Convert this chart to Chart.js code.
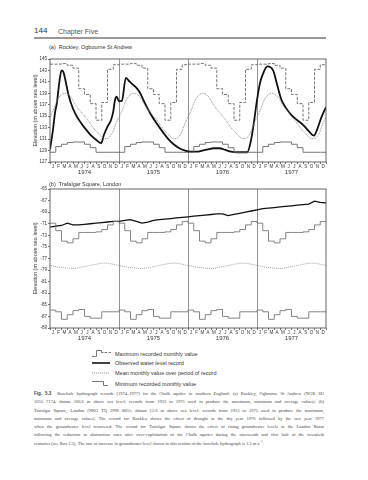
<!DOCTYPE html>
<html>
<head>
<meta charset="utf-8">
<script src="https://cdn.jsdelivr.net/npm/chart.js@4.4.0/dist/chart.umd.min.js"></script>
<style>
html, body { margin: 0; padding: 0; background: #fff; }
body { width: 368px; height: 480px; position: relative; overflow: hidden; font-family: "Liberation Sans", Arial, sans-serif; color: #333; }
.abs { position: absolute; }
.ttl { font-size: 5.5px; line-height: 6px; white-space: nowrap; }
.leg { font-size: 5.5px; line-height: 6px; white-space: nowrap; left: 115px; }
.cap { left: 34px; width: 290px; font-family: "Liberation Serif", "DejaVu Serif", serif; font-size: 4.5px; line-height: 8.3px; color: #444; }
.cap div { text-align: justify; text-align-last: justify; height: 8.3px; overflow: hidden; }
.cap div.last { text-align-last: left; }
.cap b { font-family: "Liberation Sans", Arial, sans-serif; }
</style>
</head>
<body>

<div class="abs" style="left:34px;top:26px;font-size:8px;line-height:10px;color:#333;">144</div>
<div class="abs" style="left:58px;top:27px;font-size:7px;line-height:9px;color:#555;">Chapter Five</div>
<div class="abs" style="left:34px;top:37px;width:292px;height:1.5px;background:#999;"></div>

<div class="abs" style="left:0;top:52px;width:368px;height:126px;"><canvas id="chartA"></canvas></div>
<div class="abs" style="left:0;top:182px;width:368px;height:162px;"><canvas id="chartB"></canvas></div>

<div class="abs ttl" style="left:49px;top:44px;">(a)&nbsp;&nbsp;Rockley, Ogbourne St Andrew</div>
<div class="abs ttl" style="left:49px;top:180.5px;">(b)&nbsp;&nbsp;Trafalgar Square, London</div>

<svg class="abs" style="left:88px;top:346px" width="26" height="42" viewBox="88 346 26 42">
  <path d="M92 356.5H96.5V350.5H101.5V352.5H103.5" fill="none" stroke="#555" stroke-width="0.8"/>
  <path d="M104.5 352.5H111" stroke="#555" stroke-width="0.8" stroke-dasharray="2.5 1.5"/>
  <path d="M92 363H110" stroke="#111" stroke-width="1.6"/>
  <path d="M92 373H110" stroke="#777" stroke-width="0.8" stroke-dasharray="1 1"/>
  <path d="M92 381.5H103.5V385.5H108" fill="none" stroke="#555" stroke-width="0.8"/>
</svg>
<div class="abs leg" style="top:350.5px;">Maximum recorded monthly value</div>
<div class="abs leg" style="top:360px;">Observed water level record</div>
<div class="abs leg" style="top:370px;">Mean monthly value over period of record</div>
<div class="abs leg" style="top:380.5px;">Minimum recorded monthly value</div>

<div class="abs cap" style="top:390px;">
  <div><b>Fig. 5.3</b>&nbsp; Borehole hydrograph records (1974–1977) for the Chalk aquifer in southern England: (a) Rockley, Ogbourne St Andrew (NGR SU</div>
  <div>1655 7174; datum 166.6 m above sea level; records from 1933 to 1975 used to produce the maximum, minimum and average values); (b)</div>
  <div>Trafalgar Square, London (NRG TQ 2996 8051; datum 12.6 m above sea level; records from 1913 to 1975 used to produce the maximum,</div>
  <div>minimum and average values). The record for Rockley shows the effect of drought in the dry year 1976 followed by the wet year 1977</div>
  <div>when the groundwater level recovered. The record for Trafalgar Square shows the effect of rising groundwater levels in the London Basin</div>
  <div>following the reduction in abstraction rates after over-exploitation of the Chalk aquifer during the nineteenth and first half of the twentieth</div>
  <div class="last">centuries (see Box 2.5). The rate of increase in groundwater level shown in this section of the borehole hydrograph is 1.2 m a<sup style="font-size:3px;line-height:0;">−1</sup>.</div>
</div>

<script>
// axis labels
const months = ['J', 'F', 'M', 'A', 'M', 'J', 'J', 'A', 'S', 'O', 'N', 'D'];
const years = ['1974', '1975', '1976', '1977'];
const yearLines = [12, 24, 36];
const yTicksA = [127, 129, 131, 133, 135, 137, 139, 141, 143, 145];
const yTicksB = [-89, -87, -85, -83, -81, -79, -77, -75, -73, -71, -69, -67, -65];

// (a) Rockley - monthly record values (Jan..Dec), m above sea level
const maxA = [144.1, 144.1, 144.2, 143.9, 143.4, 139.8, 138.8, 137.2, 134.3, 137.4, 143.2, 144.0];
const meanA = [135.9, 138.2, 139.0, 138.5, 136.9, 135.6, 134.4, 133.0, 131.9, 131.1, 131.5, 133.8];
const minA = [128.7, 129.7, 130.1, 130.4, 130.5, 130.5, 130.1, 129.5, 128.7, 128.7, 128.7, 128.7];

// (a) observed level, time in months from Jan 1974
const obsAT = [0, 0.5, 0.9, 1.2, 1.6, 2.0, 2.3, 2.7, 3.2, 4.0, 5.0, 6.0, 7.0, 8.0, 8.9, 9.4, 10.0, 10.6, 11.0, 11.3, 11.6, 12.0, 12.5,
  13.2, 13.7, 14.3, 15.0, 15.6, 16.5, 17.5, 18.5, 19.5, 20.5, 21.5, 22.5, 23.5, 24.5, 25.5, 26.5, 27.5, 28.5, 29.5, 30.5, 31.5,
  32.5, 33.5, 34.3, 35.0, 35.5, 36.0, 36.5, 37.0, 37.8, 38.8, 39.5, 40.2, 41.0, 42.0, 43.0, 44.0, 45.0, 45.9, 46.5, 47.2, 48.0];
const obsAV = [129.2, 132.5, 135.8, 137.3, 140.8, 143.0, 142.8, 141.2, 138.8, 136.3, 134.4, 133.0, 131.8, 130.9, 130.3, 131.8, 133.2, 134.3, 135.8, 137.8, 138.4, 137.6, 137.7,
  141.7, 141.2, 140.6, 140.0, 139.2, 137.3, 135.4, 133.8, 132.4, 131.1, 130.1, 129.4, 129.0, 128.8, 128.8, 129.0, 129.2, 129.4, 129.4, 129.1, 128.8,
  128.7, 128.7, 128.7, 131.0, 134.2, 137.8, 140.7, 142.3, 143.7, 143.0, 140.5, 138.0, 136.5, 135.2, 134.3, 133.5, 132.4, 131.6, 132.8, 134.8, 136.6];

// (b) Trafalgar Square - monthly record values (Jan..Dec)
const maxB = [-70.9, -72.2, -74.0, -74.3, -73.6, -72.5, -72.5, -72.5, -72.4, -72.0, -71.2, -70.6];
const meanB = [-78.3, -78.5, -78.6, -78.7, -78.7, -78.5, -78.3, -78.1, -77.9, -77.8, -77.9, -78.1];
const minB = [-85.9, -86.2, -87.5, -86.7, -86.0, -85.8, -87.0, -87.3, -87.3, -86.2, -86.2, -86.2];

// (b) observed level at the start of each month, Jan 1974 .. Jan 1978
const obsB = [-71.6, -71.4, -71.3, -70.9, -71.2, -71.2, -71.1, -71.0, -70.9, -70.8, -70.7, -70.6,
  -70.6, -70.4, -70.3, -70.6, -70.9, -70.7, -70.4, -70.3, -70.2, -70.1, -70.0, -69.9,
  -69.8, -69.7, -69.6, -69.5, -69.4, -69.3, -69.3, -69.6, -69.4, -69.2, -69.0, -68.8,
  -68.6, -68.4, -68.3, -68.2, -68.1, -68.0, -67.9, -67.8, -67.7, -67.6, -67.1, -67.3, -67.4];

Chart.defaults.font.family = '"Liberation Sans", Arial, sans-serif';
Chart.defaults.color = '#333';

const monthTicks = [];
for (let v = 0; v <= 48; v += 0.5) monthTicks.push(v);

function stepData(pattern) {
  const pts = [];
  for (let m = 0; m < 48; m++) pts.push({ x: m, y: pattern[m % 12] });
  pts.push({ x: 48, y: pattern[11] });
  return pts;
}

function meanData(pattern) {
  const pts = [{ x: -0.5, y: pattern[11] }];
  for (let m = 0; m < 48; m++) pts.push({ x: m + 0.5, y: pattern[m % 12] });
  pts.push({ x: 48.5, y: pattern[0] });
  return pts;
}

const frame = {
  id: 'frame',
  afterDatasetsDraw(chart) {
    const { ctx, chartArea: a } = chart;
    ctx.save();
    ctx.strokeStyle = '#555';
    ctx.lineWidth = 0.9;
    ctx.strokeRect(a.left, a.top, a.right - a.left, a.bottom - a.top);
    ctx.restore();
  }
};

function makePanel(id, yTicks, datasets) {
  return new Chart(document.getElementById(id), {
    type: 'line',
    data: { datasets },
    plugins: [frame],
    options: {
      responsive: true,
      maintainAspectRatio: false,
      animation: false,
      devicePixelRatio: 1,
      layout: { padding: { left: 32, right: 42, top: 7, bottom: 0 } },
      plugins: { legend: { display: false }, tooltip: { enabled: false } },
      elements: { point: { radius: 0 } },
      scales: {
        x: {
          type: 'linear', min: 0, max: 48, position: 'bottom',
          afterBuildTicks: s => { s.ticks = monthTicks.map(v => ({ value: v })); },
          afterFit: s => { s.height = 6; },
          border: { display: false },
          grid: {
            tickLength: 2, lineWidth: 0.9,
            color: c => yearLines.includes(c.tick.value) ? '#888' : 'rgba(0,0,0,0)',
            tickColor: c => Number.isInteger(c.tick.value) ? '#666' : 'rgba(0,0,0,0)'
          },
          ticks: {
            autoSkip: false, maxRotation: 0, minRotation: 0, padding: 0,
            font: { size: 4.5 },
            callback: v => Number.isInteger(v) ? '' : months[Math.floor(v) % 12]
          }
        },
        year: {
          type: 'linear', min: 0, max: 48, position: 'bottom',
          afterBuildTicks: s => { s.ticks = years.map((y, i) => ({ value: 12 * i + 6 })); },
          afterFit: s => { s.height = 10; },
          border: { display: false },
          grid: { display: false, drawTicks: false },
          ticks: { autoSkip: false, maxRotation: 0, padding: 1, font: { size: 6 }, callback: (v, i) => years[i] }
        },
        y: {
          min: yTicks[0], max: yTicks[yTicks.length - 1],
          afterBuildTicks: s => { s.ticks = yTicks.map(v => ({ value: v })); },
          afterFit: s => { s.width = 18; },
          border: { display: false },
          grid: { drawOnChartArea: false, tickLength: 2, color: '#666', lineWidth: 0.9 },
          ticks: { padding: 1, font: { size: 4.5 }, callback: v => String(v) },
          title: { display: true, text: 'Elevation (m above sea level)', font: { size: 5.5 }, padding: 0 }
        }
      }
    }
  });
}

makePanel('chartA', yTicksA, [
  { data: stepData(maxA), stepped: true, borderColor: '#666', borderWidth: 0.9, borderDash: [3, 1.5] },
  { data: stepData(minA), stepped: true, borderColor: '#666', borderWidth: 0.9 },
  { data: meanData(meanA), tension: 0.4, borderColor: '#888', borderWidth: 0.9, borderDash: [1, 0.8] },
  { data: obsAT.map((t, i) => ({ x: t, y: obsAV[i] })), cubicInterpolationMode: 'monotone', borderColor: '#111', borderWidth: 1.8 }
]);

makePanel('chartB', yTicksB, [
  { data: stepData(maxB), stepped: true, borderColor: '#777', borderWidth: 0.9 },
  { data: stepData(minB), stepped: true, borderColor: '#777', borderWidth: 0.9 },
  { data: meanData(meanB), tension: 0.4, borderColor: '#999', borderWidth: 0.9, borderDash: [1, 1] },
  { data: obsB.map((v, i) => ({ x: i, y: v })), tension: 0, borderColor: '#111', borderWidth: 1.3 }
]);
</script>
</body>
</html>
